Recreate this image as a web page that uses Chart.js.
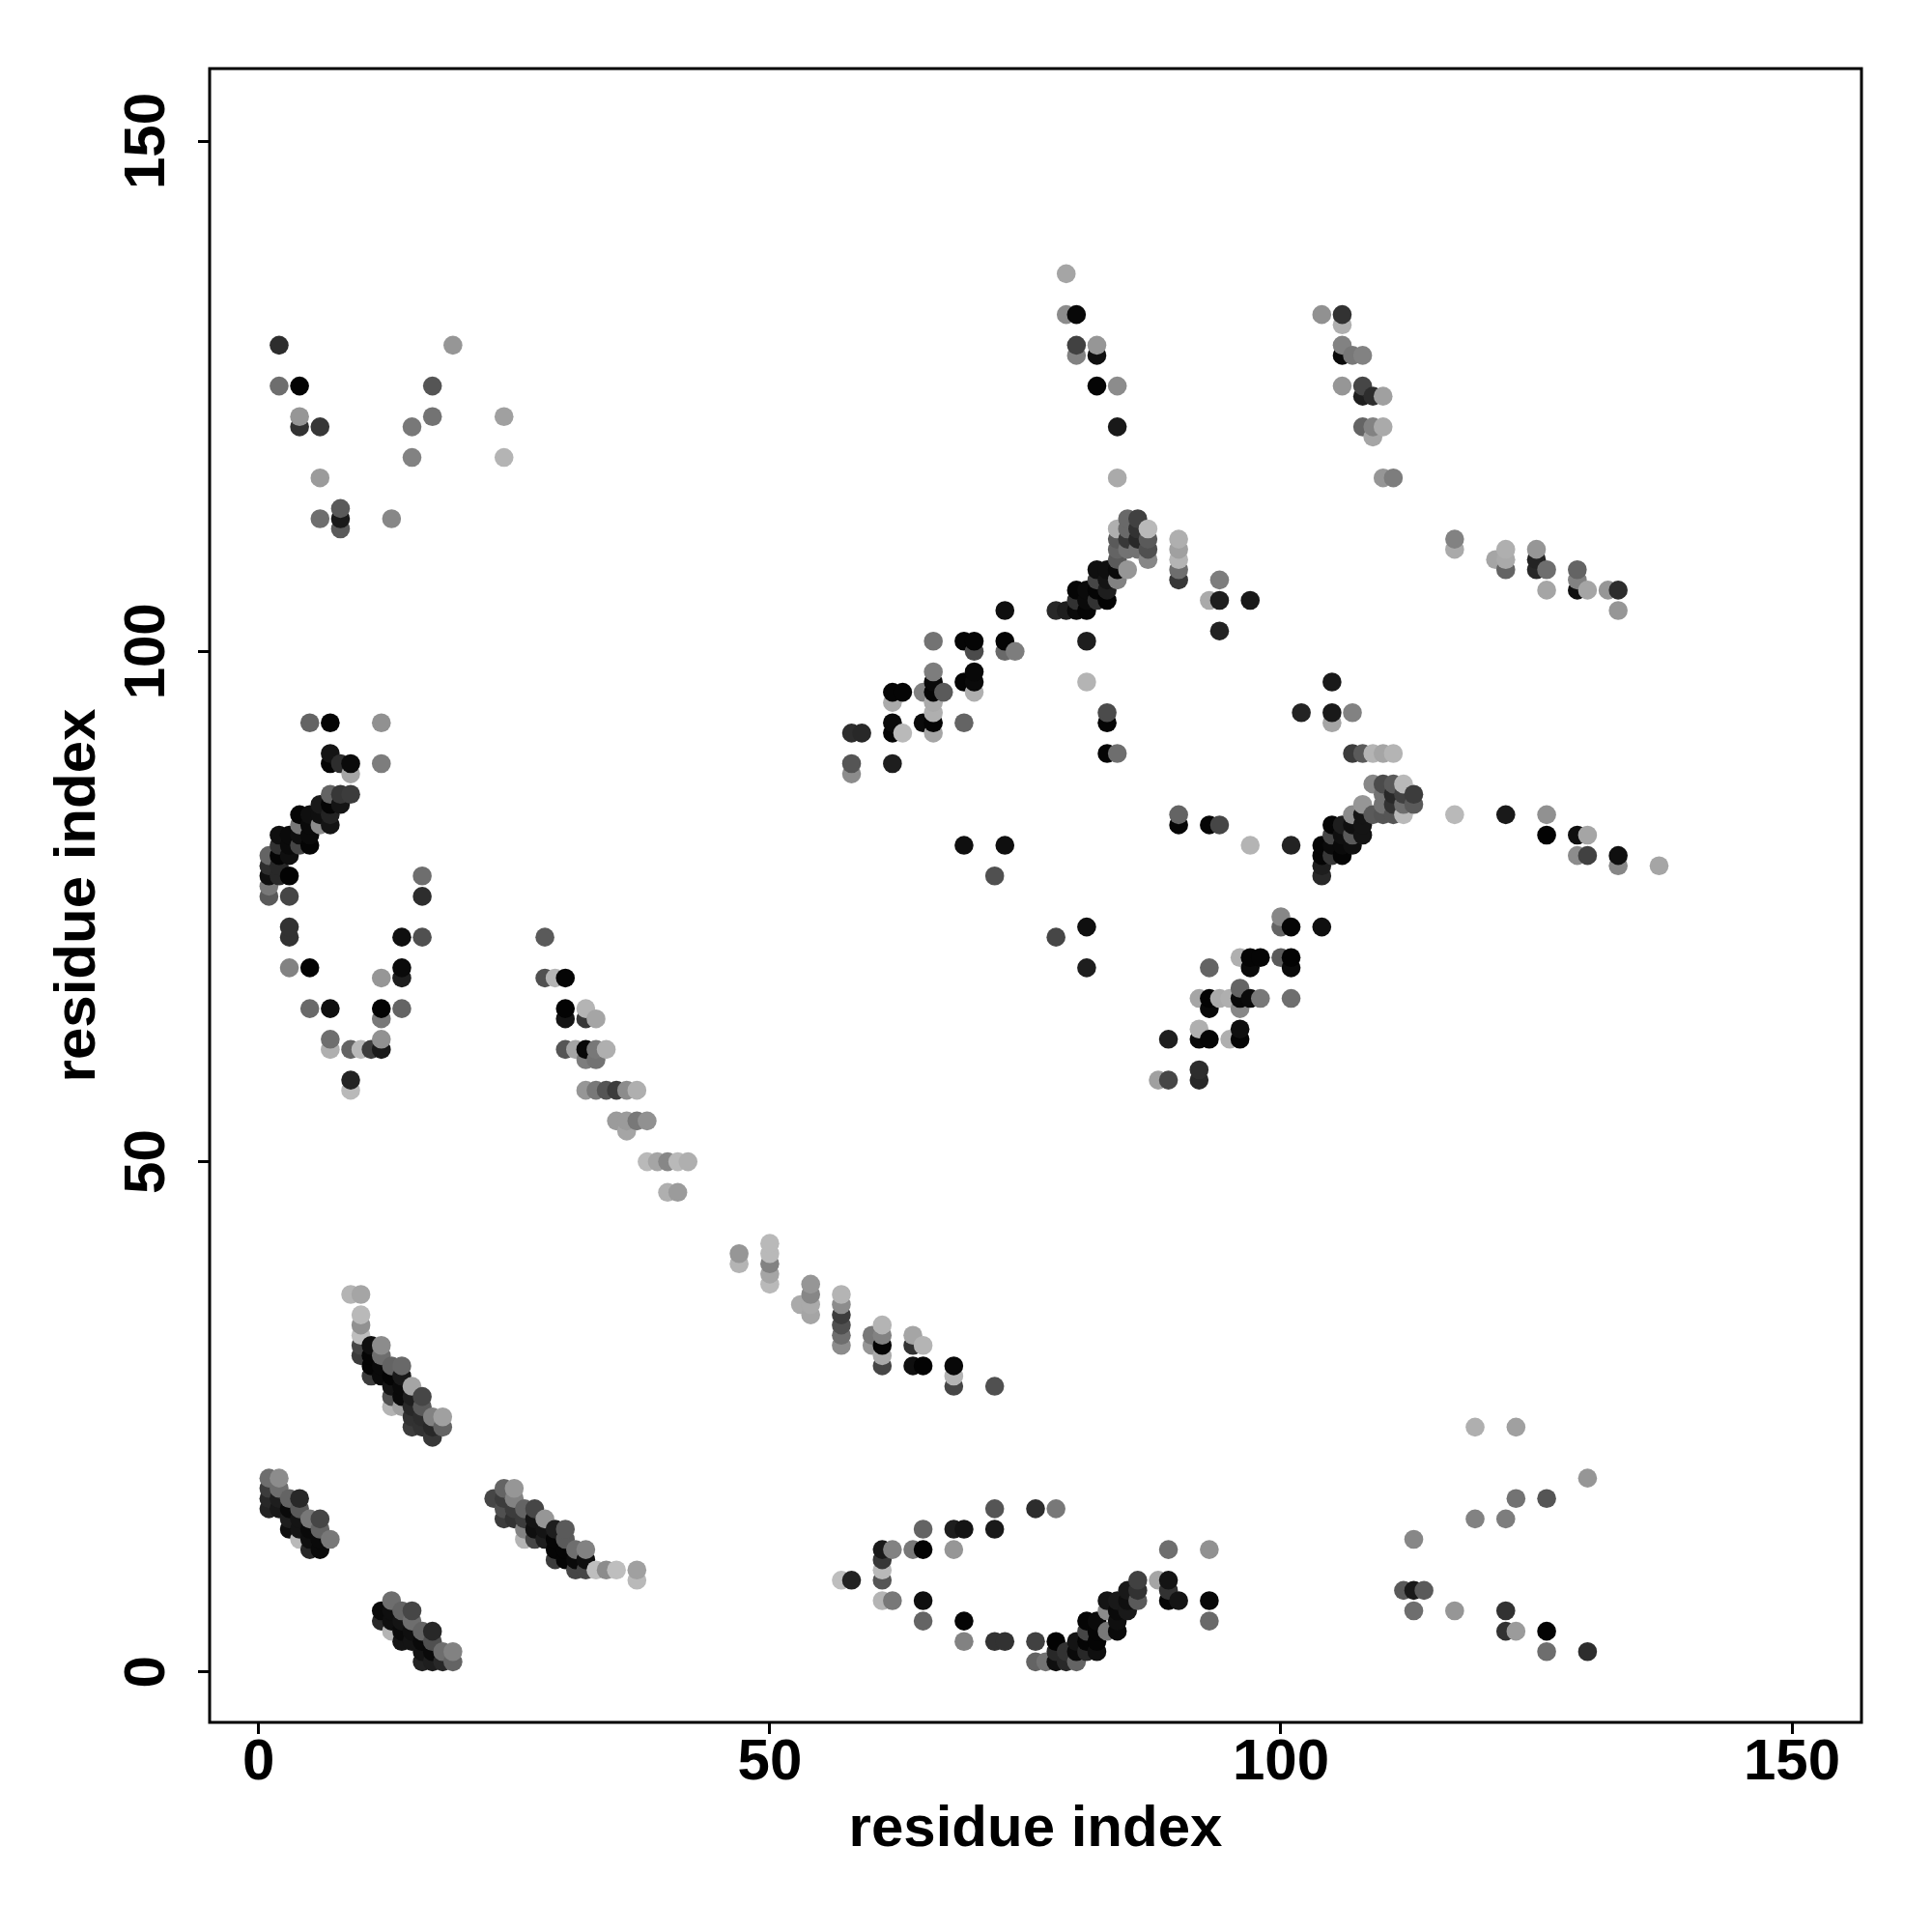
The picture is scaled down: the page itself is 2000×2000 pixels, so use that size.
<!DOCTYPE html>
<html>
<head>
<meta charset="utf-8">
<title>residue contacts</title>
<script src="https://cdn.jsdelivr.net/npm/chart.js@4"></script>
<style>
    html, body { margin: 0; background: #fff; }
    canvas { display: block; }
</style>
</head>
<body>
<canvas id="contactChart" width="2000" height="2000"></canvas>
<script>
// Each contact is [residue x, residue y, rank]. Rank 0 is the strongest contact, 190 the weakest.
const axisTicks = [0, 50, 100, 150];
const axisTitle = "residue index";

const helixLowA = [[1,19,110],[2,19,140],[1,18,60],[2,18,110],[1,17,40],[2,17,30],[3,17,100],[4,17,40],[1,16,35],[2,16,25],[3,16,10],[4,16,90],
    [3,15,30],[4,15,20],[5,15,120],[6,15,70],[3,14,15],[4,14,20],[5,14,10],[6,14,100],[4,13,185],[5,13,15],[6,13,10],[7,13,120],[5,12,40],[6,12,10]];
const helixLowB = [[9,37,180],[10,37,165],[10,35,185],[10,34,145],[10,33,190],[10,32,70],[11,32,15],[12,32,140],[10,31,60],[11,31,5],[12,31,110],
    [11,30,5],[12,30,10],[13,30,100],[14,30,105],[11,29,60],[12,29,10],[13,29,5],[14,29,25],[13,28,20],[14,28,10],[15,28,165],
    [13,27,80],[14,27,10],[15,27,30],[16,27,70],[13,26,180],[14,26,160],[15,26,40],[16,26,90],[15,25,50],[16,25,45],[17,25,130],[18,25,160],
    [15,24,60],[16,24,50],[17,24,40],[18,24,100],[17,23,55]];
const helixLowC = [[24,18,100],[25,18,150],[23,17,70],[24,17,60],[25,17,130],[24,16,80],[25,16,60],[26,16,100],[27,16,70],
    [24,15,60],[25,15,50],[26,15,60],[27,15,20],[28,15,150],[26,14,130],[27,14,15],[28,14,20],[29,14,30],[30,14,90],
    [26,13,180],[27,13,70],[28,13,30],[29,13,5],[30,13,90],[29,12,5],[30,12,5],[31,12,110],[32,12,130],[29,11,60],[30,11,5],[31,11,10],[32,11,15],
    [31,10,70],[32,10,70],[33,10,190],[34,10,140],[35,10,190],[37,10,160],[37,9,185]];
const helixLowD = [[13,7,110],[12,6,10],[13,6,15],[14,6,100],[15,6,70],[12,5,40],[13,5,15],[14,5,20],[15,5,110],[13,4,180],[14,4,10],[15,4,15],[16,4,100],[17,4,40],
    [14,3,20],[15,3,20],[16,3,10],[17,3,80],[16,2,20],[17,2,10],[18,2,110],[19,2,130],[16,1,35],[17,1,30],[18,1,40],[19,1,100]];

const stripMiddle = [[47,41,150],[47,40,180],[50,42,185],[50,41,185],[50,40,130],[50,39,165],[50,38,185],[54,38,150],[54,37,135],[54,36,170],[54,35,165],[53,36,170],
    [57,37,180],[57,36,140],[57,35,60],[57,34,80],[57,33,110],[57,32,140],[60,33,120],[60,32,150],[61,34,180],[61,33,130],[61,32,5],[61,31,170],[61,30,70],
    [64,33,165],[64,32,50],[65,32,180],[64,30,15],[65,30,3],[68,30,8],[68,29,180],[68,28,70],[72,28,80]];
const arcBottom = [[72,16,85],[76,16,45],[78,16,120],[65,14,100],[68,14,30],[69,14,20],[72,14,25],[61,12,25],[62,12,130],[64,12,120],[65,12,3],[68,12,150],
    [89,12,110],[93,12,145],[61,11,55],[61,10,185],[61,9,85],[57,9,190],[58,9,35],[86,9,65],[88,9,165],[89,9,20],[89,8,50],[85,8,25],[86,8,50],
    [61,7,180],[62,7,120],[65,7,15],[83,7,20],[84,7,25],[85,7,15],[86,7,90],[89,7,5],[90,7,20],[93,7,8],[85,6,25],[84,6,10],[83,6,140],
    [65,5,100],[69,5,5],[93,5,105],[81,5,5],[82,5,10],[84,5,15],[81,4,70],[82,4,5],[83,4,120],[84,4,10],
    [69,3,130],[72,3,50],[73,3,50],[76,3,65],[78,3,3],[80,3,20],[81,3,5],[82,3,5],[78,2,40],[79,2,50],[80,2,10],[81,2,40],[82,2,15],
    [76,1,100],[77,1,115],[78,1,15],[79,1,40],[80,1,100]];
const cornerBottom = [[119,24,175],[123,24,160],[130,19,150],[123,17,115],[126,17,85],[119,15,130],[122,15,125],[113,13,135],[112,8,90],[113,8,25],[114,8,90],
    [113,6,110],[117,6,150],[122,6,50],[122,4,50],[123,4,155],[126,4,3],[126,2,110],[130,2,45]];

const hookLeft = [[5,93,100],[7,93,5],[12,93,145],[7,90,20],[7,89,5],[8,89,45],[9,89,10],[12,89,125],[9,88,165],[7,86,100],[8,86,55],[9,86,60],
    [6,85,25],[7,85,5],[8,85,20],[4,84,5],[5,84,15],[6,84,15],[7,84,35],[4,83,120],[5,83,10],[6,83,140],[7,83,20],[2,82,15],[3,82,10],[4,82,15],[5,82,10],
    [2,81,50],[3,81,10],[4,81,70],[5,81,5],[1,80,100],[2,80,5],[3,80,15],[1,79,45],[2,79,40],[1,78,15],[2,78,40],[3,78,3],[1,77,120],[1,76,90],[3,76,70],[16,78,110],[16,76,45],
    [3,73,50],[3,72,50],[14,72,15],[16,72,80],[3,69,130],[5,69,3],[14,69,10],[12,68,150],[14,68,30],[5,65,105],[7,65,15],[12,65,3],[14,65,100],[12,64,120],
    [7,62,110],[12,62,145],[7,61,175],[9,61,100],[10,61,185],[11,61,60],[12,61,25],[9,58,35],[9,57,185]];
const stripUpper = [[28,72,90],[28,68,80],[29,68,180],[30,68,5],[30,65,3],[32,65,180],[30,64,20],[32,64,55],[33,64,165],
    [30,61,85],[31,61,165],[32,61,8],[33,61,120],[34,61,175],[32,60,125],[33,60,115],[32,57,150],[33,57,120],[34,57,85],[35,57,60],[36,57,140],[37,57,175],
    [35,54,155],[36,54,155],[37,54,120],[38,54,145],[36,53,165],[38,50,185],[39,50,165],[40,50,135],[41,50,185],[42,50,175],[40,47,175],[41,47,155]];

const ridgeCentre = [[58,89,85],[62,89,30],[58,88,140],[58,92,45],[59,92,40],[62,92,5],[63,92,185],[66,92,165],[62,93,10],[65,93,10],[66,93,5],[69,93,100],
    [62,96,5],[63,96,5],[65,96,130],[66,96,5],[67,96,90],[70,96,175],[62,95,170],[66,95,170],[66,94,175],[66,97,10],[69,97,5],[70,97,10],[66,98,125],[70,98,8],
    [70,100,75],[73,100,105],[74,100,125],[66,101,115],[69,101,5],[70,101,5],[73,101,5],[81,101,30],[73,104,15],[78,104,40],[79,104,30],[80,104,10],[81,104,5],
    [80,105,50],[81,105,10],[82,105,50],[83,105,3],[80,106,5],[81,106,10],[82,106,5],[83,106,30],[82,107,70],[83,107,20],[84,107,130],
    [82,108,15],[83,108,15],[84,108,10],[85,108,150],[84,109,90],[87,109,135],[84,110,100],[85,110,115],[86,110,115],[87,110,80],
    [84,111,90],[85,111,55],[86,111,40],[87,111,90],[84,112,175],[85,112,105],[86,112,50],[87,112,185],[85,113,105],[86,113,65],
    [90,111,175],[90,110,160],[90,109,180],[90,108,110],[90,107,55],[94,107,125],[93,105,170],[94,105,30],[97,105,25],[94,102,35],
    [81,97,180],[83,94,75],[83,93,5],[83,90,5],[84,90,110]];
const ridgeLower = [[90,84,100],[90,83,5],[93,83,5],[94,83,70],[97,81,180],[101,81,35],[100,74,135],[100,73,100],[101,73,5],[104,73,15],
    [96,70,175],[97,70,5],[98,70,5],[100,70,90],[101,70,3],[93,69,100],[97,69,10],[101,69,10],[96,67,100],
    [92,66,165],[93,66,3],[94,66,170],[95,66,175],[96,66,8],[97,66,10],[98,66,120],[101,66,110],[93,65,8],[96,65,135],[92,63,175],[96,63,15],
    [89,62,30],[92,62,8],[93,62,5],[95,62,175],[96,62,5],[92,59,45],[88,58,160],[89,58,70],[92,58,40],
    [69,81,15],[73,81,15],[72,78,80],[78,72,70],[81,73,15],[81,69,30]];
const ridgeRight = [[105,97,25],[102,94,35],[105,94,25],[107,94,130],[105,93,165],[107,90,60],[108,90,90],[109,90,180],[110,90,165],[111,90,180],
    [109,87,135],[110,87,75],[111,87,90],[112,87,185],[110,86,115],[111,86,40],[112,86,65],[113,86,60],[108,85,150],[110,85,115],[111,85,50],[112,85,110],[113,85,90],
    [107,84,140],[108,84,20],[109,84,90],[110,84,85],[111,84,85],[112,84,185],[117,84,185],[122,84,25],[126,84,145],
    [105,83,5],[106,83,30],[107,83,15],[108,83,20],[105,82,70],[106,82,15],[107,82,90],[108,82,20],[126,82,3],[129,82,15],[130,82,165],
    [104,81,5],[105,81,10],[106,81,10],[107,81,15],[104,80,5],[105,80,55],[106,80,5],[129,80,140],[130,80,65],[133,80,15],[104,79,30],[133,79,135],[137,79,165],[104,78,40]];

const wedgeTop = [[104,133,145],[106,133,50],[106,132,175],[106,130,130],[106,129,10],[107,129,120],[108,129,130],[106,126,150],[108,126,70],[108,125,30],[109,125,45],[110,125,160],
    [108,122,100],[109,122,130],[110,122,170],[109,121,165],[110,117,150],[111,117,125]];
const wedgeRight = [[117,111,130],[117,110,170],[121,109,165],[122,110,175],[122,109,170],[122,108,100],[125,110,150],[125,109,35],[125,108,40],[126,108,110],[126,106,165],
    [129,108,100],[129,107,130],[129,106,15],[130,106,165],[132,106,150],[133,106,45],[133,104,150]];
const wedgeMiddle = [[79,137,165],[79,133,140],[80,133,8],[80,130,65],[82,130,150],[80,129,130],[82,129,15],[82,126,5],[84,126,140],[84,122,25],[84,117,170]];
const wedgeLeft = [[2,130,45],[19,130,150],[2,126,110],[4,126,3],[17,126,85],[4,123,150],[17,123,115],[24,123,160],[4,122,50],[6,122,55],[15,122,120],[15,119,130],[24,119,180],
    [6,117,155],[8,114,90],[6,113,110],[8,113,25],[13,113,135],[8,112,90]];

// Later points sit on top, the picture was plotted in residue order
const contacts = [
    ...helixLowA, ...helixLowB, ...helixLowC, ...helixLowD, ...stripMiddle, ...arcBottom, ...cornerBottom,
    ...hookLeft, ...stripUpper, ...ridgeCentre, ...ridgeLower, ...ridgeRight,
    ...wedgeTop, ...wedgeRight, ...wedgeMiddle, ...wedgeLeft,
].sort((a, b) => a[0] - b[0] || a[1] - b[1]);

const axisFont = { family: "'Liberation Sans', Arial, sans-serif", size: 60, weight: "bold" };

// R style box round the plot area
const frameBox = {
    id: "frameBox",
    afterDraw(chart) {
        const { ctx, chartArea } = chart;
        ctx.save();
        ctx.strokeStyle = "#000";
        ctx.lineWidth = 3;
        ctx.strokeRect(chartArea.left, chartArea.top, chartArea.width, chartArea.height);
        ctx.restore();
    },
};

function setAxisTicks(scale) {
    scale.ticks = axisTicks.map((value) => ({ value }));
}

new Chart(document.getElementById("contactChart"), {
    type: "scatter",
    data: {
        datasets: [{
            data: contacts.map((c) => ({ x: c[0], y: c[1] })),
            pointBackgroundColor: contacts.map((c) => `rgb(${c[2]},${c[2]},${c[2]})`),
            pointBorderWidth: 0,
            pointRadius: 9.8,
            pointHoverRadius: 9.8,
        }],
    },
    options: {
        responsive: false,
        animation: false,
        layout: { padding: { top: 71, right: 73, bottom: 0, left: 0 } },
        plugins: {
            legend: { display: false },
            tooltip: { enabled: false },
        },
        scales: {
            x: {
                type: "linear",
                min: -4.8,
                max: 156.8,
                afterBuildTicks: setAxisTicks,
                afterFit(scale) { scale.height = 217; },
                grid: { drawOnChartArea: false, tickLength: 12, tickWidth: 3, tickColor: "#000" },
                border: { display: false },
                ticks: { color: "#000", font: axisFont, padding: -6, maxRotation: 0, autoSkip: false },
                title: { display: true, text: axisTitle, color: "#000", font: axisFont, padding: { top: 0, bottom: 70 } },
            },
            y: {
                type: "linear",
                min: -4.93,
                max: 157.1,
                afterBuildTicks: setAxisTicks,
                afterFit(scale) { scale.width = 217; },
                grid: { drawOnChartArea: false, tickLength: 12, tickWidth: 3, tickColor: "#000" },
                border: { display: false },
                ticks: { color: "#000", font: axisFont, padding: 1, minRotation: 90, maxRotation: 90, crossAlign: "center", autoSkip: false },
                title: { display: true, text: axisTitle, color: "#000", font: axisFont, padding: { top: 45, bottom: 0 } },
            },
        },
    },
    plugins: [frameBox],
});
</script>
</body>
</html>
